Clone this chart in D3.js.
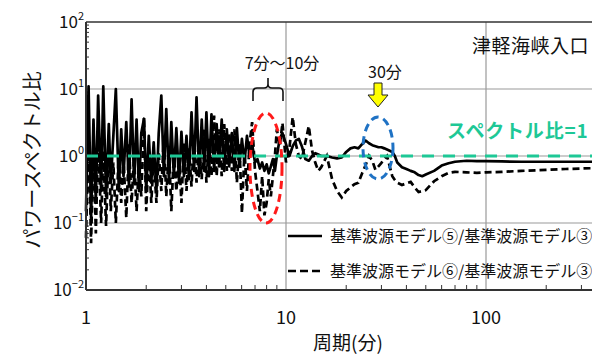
<!DOCTYPE html>
<html>
<head>
<meta charset="utf-8">
<script src="https://cdn.jsdelivr.net/npm/d3@7"></script>
<style>
  body { margin: 0; background: #fff; }
  text { font-family: "Noto Sans CJK JP", "Noto Sans", sans-serif; fill: #111; }
</style>
</head>
<body>
<div id="vizcontainer"></div>
<script>
const width = 592,
  height = 354;

// period (min), shared by both series
const periods = [
  1.00, 1.03, 1.06, 1.09, 1.12, 1.15, 1.19, 1.22, 1.26, 1.30, 1.33, 1.37, 1.41, 1.46, 1.50, 1.54, 1.59, 1.64, 1.69, 1.74, 1.79, 1.84, 1.89, 1.95, 2.00,
  2.06, 2.12, 2.18, 2.25, 2.31, 2.38, 2.45, 2.52, 2.60, 2.67, 2.75, 2.83, 2.92, 3.00, 3.09, 3.18, 3.27, 3.37, 3.47, 3.57, 3.68, 3.79, 3.90, 4.00,
  4.12, 4.24, 4.37, 4.50, 4.63, 4.77, 4.91, 5.06, 5.20, 5.36, 5.52, 5.68, 5.85, 6.02, 6.20, 6.38, 6.57, 6.77, 7.00,
  7.2, 7.4, 7.6, 7.8, 8.0, 8.2, 8.4, 8.6, 8.8, 9.0, 9.3, 9.6,
  10, 10.4, 10.8, 11.2, 11.6, 12, 12.5, 13, 13.5, 14, 14.5, 15, 16, 17, 18, 19,
  20, 21, 22, 23, 24, 25, 26, 27, 28, 29, 30, 31, 32, 33, 34, 35, 36, 38,
  40, 42, 44, 46, 48, 50, 55, 60, 65, 70, 80, 90, 100, 120, 150, 200, 250, 300, 350
];

// 基準波源モデル⑤/基準波源モデル③
const ratio5 = [
  0.15, 11, 0.12, 3.5, 0.2, 8, 0.3, 11, 0.25, 3, 0.4, 2, 10, 0.3, 2.5, 0.5, 3.2, 0.35, 7, 0.4, 3.5, 0.3, 2.2, 3.6, 0.3,
  2.0, 0.4, 1.6, 0.3, 2.2, 8, 0.5, 5, 0.4, 3.2, 0.5, 2.6, 0.4, 2.3, 0.5, 2.0, 0.45, 4.5, 0.6, 7.5, 0.5, 3.5, 0.6, 4.5,
  0.5, 4.2, 0.6, 3.0, 0.7, 3.5, 0.6, 2.5, 0.7, 2.2, 0.6, 2.6, 0.7, 1.8, 0.8, 2.0, 1.0, 1.5, 0.8,
  0.9, 0.65, 0.8, 0.6, 0.75, 0.55, 0.7, 0.9, 0.6, 1.0, 1.8, 2.2,
  1.5, 1.0, 1.4, 1.7, 1.8, 1.4, 0.9, 0.85, 1.0, 1.1, 1.05, 1.0, 1.0, 0.95, 0.92, 0.95,
  1.15, 1.3, 1.35, 1.3, 1.5, 1.7, 1.55, 1.45, 1.4, 1.35, 1.35, 1.3, 1.25, 1.2, 1.15, 1.0, 0.8, 0.68,
  0.64, 0.6, 0.57, 0.52, 0.5, 0.53, 0.6, 0.72, 0.78, 0.82, 0.85, 0.84, 0.84, 0.83, 0.82, 0.82, 0.82, 0.82, 0.82
];

// 基準波源モデル⑥/基準波源モデル③
const ratio6 = [
  0.06, 2.5, 0.05, 1.5, 0.07, 2, 0.1, 1.2, 0.09, 1.5, 0.15, 0.8, 0.1, 1.2, 0.2, 0.9, 0.12, 1.5, 0.2, 1.0, 0.15, 0.8, 0.25, 3.8, 0.15,
  1.2, 0.2, 0.9, 0.2, 1.1, 0.3, 2.0, 0.25, 1.3, 0.15, 1.1, 0.3, 1.0, 0.2, 1.6, 0.3, 1.3, 0.35, 2.0, 0.4, 1.5, 0.45, 2.5, 0.4,
  1.8, 0.5, 4.0, 0.5, 2.5, 0.5, 3.0, 0.6, 2.2, 0.6, 2.5, 0.4, 1.5, 0.14, 1.2, 0.3, 1.5, 3.2, 0.6,
  0.3, 0.15, 0.5, 0.13, 0.2, 0.45, 0.25, 0.5, 1.0, 2.5, 1.4, 3.1,
  0.8, 1.3, 3.8, 1.5, 1.0, 0.9, 1.6, 2.8, 1.2, 0.8, 0.6, 0.68, 1.0, 0.45, 0.3, 0.24,
  0.3, 0.34, 0.38, 0.4, 0.55, 0.73, 1.0, 0.85, 0.62, 0.7, 0.79, 0.9, 1.0, 0.7, 0.5, 0.44, 0.4, 0.37,
  0.39, 0.41, 0.34, 0.29, 0.3, 0.31, 0.42, 0.5, 0.56, 0.58, 0.57, 0.56, 0.57, 0.58, 0.6, 0.62, 0.64, 0.65, 0.66
];

const xTickLabels = ['1', '10', '100'];
const yTickExps = ['2', '1', '0', '−1', '−2'];
const legendLabels = ['基準波源モデル⑤/基準波源モデル③', '基準波源モデル⑥/基準波源モデル③'];

const x = d3.scaleLog().domain([1, 100]).range([86, 486]);
const y = d3.scaleLog().domain([0.01, 100]).range([290, 22]);
const x0 = 86, y0 = 290, yTop = 22;

let viz = d3.select('#vizcontainer')
  .append('svg')
  .attr('width', width)
  .attr('height', height);

// grid
const grid = viz.append('g');
[10, 100].forEach(v => {
  grid.append('line')
    .attr('x1', x(v)).attr('x2', x(v))
    .attr('y1', yTop).attr('y2', y0)
    .attr('stroke', '#999').attr('stroke-width', 1.2);
});
[10, 1, 0.1].forEach(v => {
  grid.append('line')
    .attr('x1', x0).attr('x2', width)
    .attr('y1', y(v)).attr('y2', y(v))
    .attr('stroke', '#999').attr('stroke-width', 1.2);
});

// minor ticks
const xMinor = [2, 3, 4, 5, 6, 7, 8, 9, 20, 30, 40, 50, 60, 70, 80, 90, 200, 300];
viz.append('g').selectAll('line')
  .data(xMinor)
  .join('line')
  .attr('x1', d => x(d)).attr('x2', d => x(d))
  .attr('y1', y0).attr('y2', y0 - 5)
  .attr('stroke', '#333').attr('stroke-width', 1);

const yMinor = [];
[0.01, 0.1, 1, 10].forEach(b => { for (let k = 2; k <= 9; k++) yMinor.push(b * k); });
viz.append('g').selectAll('line')
  .data(yMinor)
  .join('line')
  .attr('x1', x0).attr('x2', x0 + 3)
  .attr('y1', d => y(d)).attr('y2', d => y(d))
  .attr('stroke', '#333').attr('stroke-width', 1);

// data lines
const line = d3.line()
  .x((d, i) => x(periods[i]))
  .y(d => y(d));

const plot = viz.append('g');
plot.append('path')
  .datum(ratio6)
  .attr('d', line)
  .attr('fill', 'none')
  .attr('stroke', '#000')
  .attr('stroke-width', 2.7)
  .attr('stroke-dasharray', '7 4');

plot.append('path')
  .datum(ratio5)
  .attr('d', line)
  .attr('fill', 'none')
  .attr('stroke', '#000')
  .attr('stroke-width', 2.7)
  .attr('stroke-linejoin', 'round');

// spectrum ratio = 1
viz.append('line')
  .attr('x1', x0).attr('x2', width)
  .attr('y1', y(1)).attr('y2', y(1))
  .attr('stroke', '#1ec896')
  .attr('stroke-width', 3.2)
  .attr('stroke-dasharray', '12 9');

// axes frame
viz.append('line').attr('x1', x0).attr('x2', width).attr('y1', y0).attr('y2', y0)
  .attr('stroke', '#333').attr('stroke-width', 2);
viz.append('line').attr('x1', x0).attr('x2', x0).attr('y1', yTop).attr('y2', y0)
  .attr('stroke', '#333').attr('stroke-width', 2);
viz.append('line').attr('x1', x0).attr('x2', width).attr('y1', yTop).attr('y2', yTop)
  .attr('stroke', '#333').attr('stroke-width', 1.5);

// tick labels
viz.append('g').selectAll('text')
  .data(xTickLabels)
  .join('text')
  .attr('x', d => x(+d))
  .attr('y', 324)
  .attr('text-anchor', 'middle')
  .attr('font-size', 18)
  .text(d => d);

const yl = viz.append('g').selectAll('text')
  .data(yTickExps)
  .join('text')
  .attr('x', 84)
  .attr('y', (d, i) => y(Math.pow(10, 2 - i)) + 6)
  .attr('text-anchor', 'end')
  .attr('font-size', 17);
yl.append('tspan').text('10');
yl.append('tspan')
  .attr('dy', -8)
  .attr('font-size', 11)
  .text(d => d);

// axis titles
viz.append('text')
  .attr('transform', 'translate(40,160) rotate(-90)')
  .attr('text-anchor', 'middle')
  .attr('font-size', 20)
  .text('パワースペクトル比');

viz.append('text')
  .attr('x', 348)
  .attr('y', 350)
  .attr('text-anchor', 'middle')
  .attr('font-size', 19)
  .text('周期(分)');

// legend
const lg = viz.append('g');
legendLabels.forEach((t, i) => {
  const ly = 236 + i * 35;
  lg.append('line')
    .attr('x1', 288).attr('x2', 322)
    .attr('y1', ly).attr('y2', ly)
    .attr('stroke', '#000').attr('stroke-width', 2.6)
    .attr('stroke-dasharray', i === 0 ? null : '8 4');
  lg.append('text')
    .attr('x', 330).attr('y', ly + 6)
    .attr('font-size', 16)
    .text(t);
});

// annotations
viz.append('text')
  .attr('x', 472).attr('y', 53)
  .attr('font-size', 19)
  .attr('letter-spacing', 0.5)
  .text('津軽海峡入口');

viz.append('text')
  .attr('x', 447).attr('y', 138)
  .attr('font-size', 19)
  .attr('font-weight', 'bold')
  .attr('letter-spacing', 0.8)
  .style('fill', '#1ec896')
  .text('スペクトル比=1');

viz.append('text')
  .attr('x', 282).attr('y', 69)
  .attr('text-anchor', 'middle')
  .attr('font-size', 16)
  .text('7分～10分');

viz.append('path')
  .attr('d', 'M253,101 L253,92 Q253,88 257,88 L264,88 Q268,88 268,84 L268,78 L268,84 Q268,88 272,88 L279,88 Q283,88 283,92 L283,101')
  .attr('fill', 'none')
  .attr('stroke', '#111')
  .attr('stroke-width', 1.6);

viz.append('text')
  .attr('x', 385).attr('y', 78)
  .attr('text-anchor', 'middle')
  .attr('font-size', 16)
  .text('30分');

viz.append('path')
  .attr('d', 'M374,83 L382,83 L382,95 L388,95 L378,107 L368,95 L374,95 Z')
  .attr('fill', '#ffff00')
  .attr('stroke', '#222')
  .attr('stroke-width', 1);

// circled ranges
viz.append('ellipse')
  .attr('cx', 266).attr('cy', 168)
  .attr('rx', 16).attr('ry', 55)
  .attr('fill', 'none')
  .attr('stroke', '#ff1a1a')
  .attr('stroke-width', 3)
  .attr('stroke-dasharray', '8 5');

viz.append('ellipse')
  .attr('cx', 378).attr('cy', 148)
  .attr('rx', 15).attr('ry', 31)
  .attr('fill', 'none')
  .attr('stroke', '#1f72c4')
  .attr('stroke-width', 3)
  .attr('stroke-dasharray', '8 5');
</script>
</body>
</html>
